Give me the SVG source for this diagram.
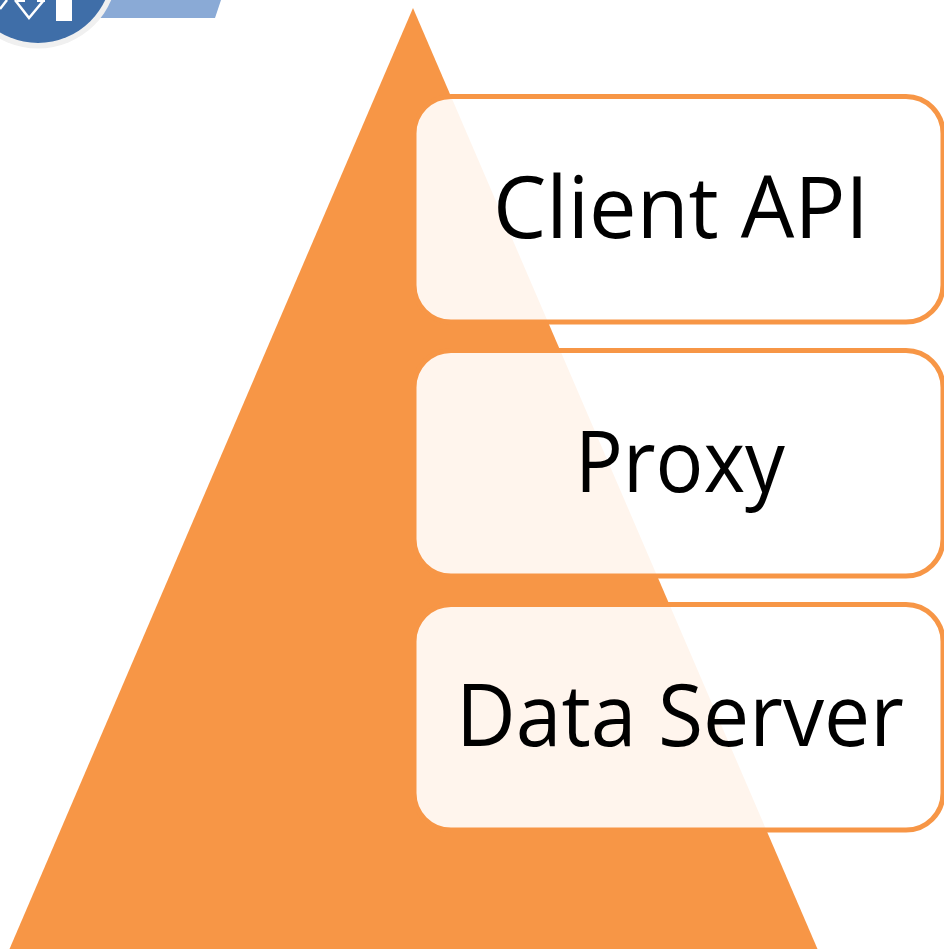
<svg xmlns="http://www.w3.org/2000/svg" width="944" height="949" viewBox="0 0 944 949">
<style>
.box{fill:#fff;fill-opacity:.9;stroke:#f79646;stroke-width:5}
.lbl{font-family:"Open Sans","Noto Sans",sans-serif;font-size:86px;fill:#000;text-anchor:middle}
</style>
<rect width="944" height="949" fill="#fff"/>
<g id="logo">
<polygon points="60,0 221,0 215,18 60,18" fill="#8aaad6"/>
<circle cx="38" cy="-31" r="79.500" fill="#f0f0f0"/>
<circle cx="38" cy="-31" r="74" fill="#3f6ea8"/>
<rect x="56" y="0" width="16" height="21" fill="#fff"/>
<polyline points="15,0 29,18 44,0" fill="none" stroke="#fff" stroke-width="2.500"/>
<path d="M17,1H25M37,1H45" fill="none" stroke="#fff" stroke-width="2"/>
<polyline points="0,9 7,0" fill="none" stroke="#fff" stroke-width="2.500"/>
</g>
<g id="pyramid"><polygon points="413,8 817.500,949 9.500,949" fill="#f79646"/></g>
<g id="client-api"><rect class="box" x="414" y="96.500" width="529" height="225.500" rx="37"/><text class="lbl" x="681" y="238" textLength="376" lengthAdjust="spacingAndGlyphs">Client API</text></g>
<g id="proxy"><rect class="box" x="414" y="350.500" width="529" height="225.500" rx="37"/><text class="lbl" x="680" y="492" textLength="210" lengthAdjust="spacingAndGlyphs">Proxy</text></g>
<g id="data-server"><rect class="box" x="414" y="604.500" width="529" height="225.500" rx="37"/><text class="lbl" x="680" y="746" textLength="448" lengthAdjust="spacingAndGlyphs">Data Server</text></g>
<g id="connectors"></g>
</svg>
